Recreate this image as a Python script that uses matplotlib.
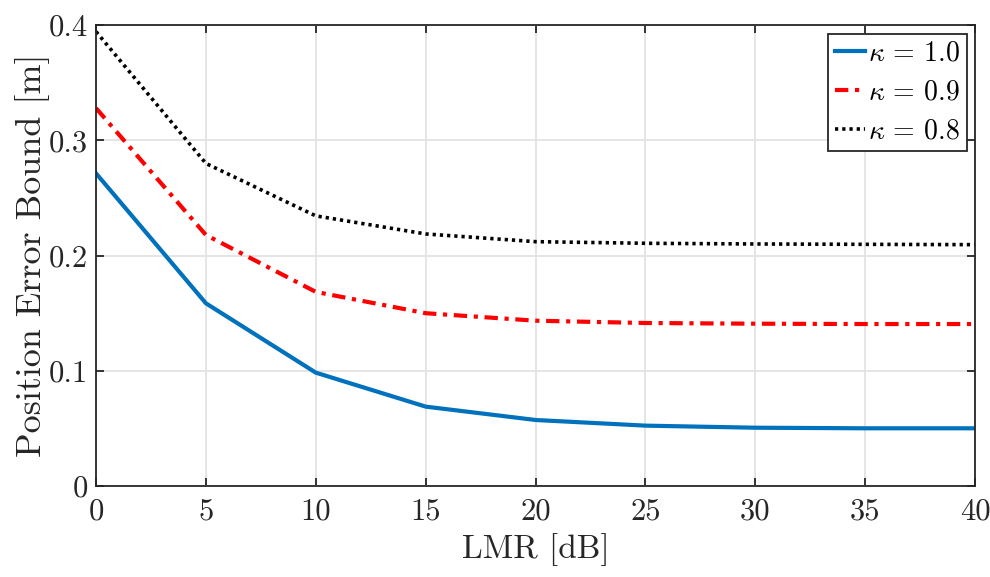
import matplotlib
matplotlib.use("Agg")
import matplotlib.pyplot as plt

plt.rcParams['font.family'] = 'serif'
plt.rcParams['font.serif'] = ['cmr10']
plt.rcParams['mathtext.fontset'] = 'cm'
plt.rcParams['axes.formatter.use_mathtext'] = True

lmr = [0, 5, 10, 15, 20, 25, 30, 35, 40]
peb_k10 = [0.2714, 0.1586, 0.0984, 0.0689, 0.0573, 0.0524, 0.0506, 0.0501, 0.0501]
peb_k09 = [0.328, 0.2179, 0.1685, 0.1500, 0.1435, 0.1415, 0.1409, 0.1406, 0.1406]
peb_k08 = [0.3944, 0.2800, 0.2345, 0.2188, 0.2121, 0.2107, 0.2101, 0.2098, 0.2095]
labels = [r'$\kappa\,=\,1.0$', r'$\kappa\,=\,0.9$', r'$\kappa\,=\,0.8$']
xticks = [0, 5, 10, 15, 20, 25, 30, 35, 40]
yticks = [0, 0.1, 0.2, 0.3, 0.4]

fig = plt.figure(figsize=(9.9, 5.77), dpi=100)
ax = fig.add_axes([0.097, 0.1577, 0.888, 0.7986])

ax.plot(lmr, peb_k10, color='#0072BD', lw=3.0, ls='-', label=labels[0])
ax.plot(lmr, peb_k09, color='#FF0000', lw=3.0, ls=(0, (3.2, 1.6, 1.0, 1.6)), label=labels[1])
ax.plot(lmr, peb_k08, color='#000000', lw=2.6, ls=(0, (0.9, 1.1)), label=labels[2])

ax.set_xlim(0, 40)
ax.set_ylim(0, 0.4)
ax.set_xticks(xticks)
ax.set_yticks(yticks)
ax.set_xticklabels([str(v) for v in xticks])
ax.set_yticklabels(['0', '0.1', '0.2', '0.3', '0.4'])
ax.grid(True, color='#e3e3e3', lw=1.3)
ax.set_axisbelow(True)
for s in ax.spines.values():
    s.set_color('#262626')
    s.set_linewidth(1.3)
ax.tick_params(direction='in', length=6, width=1.3, colors='#262626',
               labelsize=22, top=True, right=True, pad=6)
ax.tick_params(axis='x', pad=9)
ax.set_xlabel('LMR [dB]', fontsize=24, color='#262626', labelpad=5)
ax.set_ylabel('Position Error Bound [m]', fontsize=26, color='#262626', labelpad=-1)

leg = ax.legend(loc='upper right', fontsize=20, frameon=True, fancybox=False,
                edgecolor='#262626', framealpha=1, handlelength=1.1,
                handletextpad=0.1, borderpad=0.25, labelspacing=0.45,
                borderaxespad=0.3)
leg.get_frame().set_linewidth(1.3)

fig.savefig('out.png', dpi=100)
